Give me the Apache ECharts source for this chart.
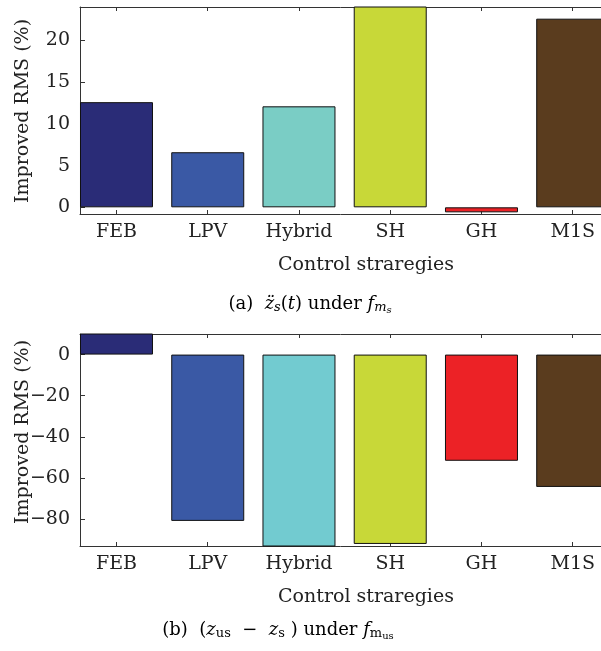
<!DOCTYPE html>
<html>
<head>
<meta charset="utf-8">
<script src="https://cdn.jsdelivr.net/npm/echarts@6/dist/echarts.min.js"></script>
<style>
  html, body { margin: 0; padding: 0; background: #fff; }
  #chart { width: 601px; height: 651px; }
</style>
</head>
<body>
<div id="chart"></div>
<script>
const categories = ['FEB', 'LPV', 'Hybrid', 'SH', 'GH', 'M1S'];
// (a) acceleration, values above 24 run off the top of the axes
const accelValues = [12.6, 6.6, 12.1, 30, -0.6, 22.6];
// (b) suspension deflection
const deflValues = [15, -80.8, -100, -92.0, -51.6, -64.3];
const accelTicks = [0, 5, 10, 15, 20];
const deflTicks = [-80, -60, -40, -20, 0];
const barColors = ['#2a2c77', '#3a59a5', '#7acdc5', '#c8d838', '#ec2226', '#5a3c1e'];
const barColorsB = ['#2a2c77', '#3a59a5', '#72cbd0', '#c8d838', '#ec2226', '#5a3c1e'];

const FONT = 'DejaVu Serif';
const positions = categories.map((c, i) => i + 1);

function mkData(vals, colors) {
  return vals.map((v, i) => ({
    value: [i + 1, v],
    itemStyle: { color: colors[i] }
  }));
}

function xAxes(gridIndex) {
  const line = { show: true, onZero: false, lineStyle: { color: '#333', width: 1 } };
  return [
    {
      type: 'value', gridIndex, position: 'bottom', min: 0.6, max: 6.31,
      axisLine: line,
      axisTick: { show: true, inside: true, length: 4, customValues: positions, lineStyle: { color: '#333' } },
      axisLabel: {
        show: true, customValues: positions, margin: 9,
        formatter: v => categories[Math.round(v) - 1] || '',
        fontFamily: FONT, fontSize: 19, color: '#222'
      },
      splitLine: { show: false }
    },
    {
      type: 'value', gridIndex, position: 'top', min: 0.6, max: 6.31,
      axisLine: line,
      axisTick: { show: true, inside: true, length: 4, customValues: positions, lineStyle: { color: '#333' } },
      axisLabel: { show: false },
      splitLine: { show: false }
    }
  ];
}

function yAxis(gridIndex, min, max, ticks) {
  return {
    type: 'value', gridIndex, min, max,
    axisLine: { show: true, onZero: false, lineStyle: { color: '#333', width: 1 } },
    axisTick: { show: true, inside: true, length: 5, customValues: ticks, lineStyle: { color: '#333' } },
    axisLabel: {
      show: true, customValues: ticks, margin: 10,
      formatter: v => (v < 0 ? '\u2212' + Math.abs(v) : String(v)),
      fontFamily: FONT, fontSize: 19, color: '#222'
    },
    splitLine: { show: false }
  };
}

const chart = echarts.init(document.getElementById('chart'));
chart.setOption({
  animation: false,
  backgroundColor: '#fff',
  grid: [
    { left: 80, top: 7, right: 0, height: 207 },
    { left: 80, top: 334, right: 0, height: 212 }
  ],
  xAxis: [...xAxes(0), ...xAxes(1)],
  yAxis: [yAxis(0, -0.8, 24, accelTicks), yAxis(1, -93, 10, deflTicks)],
  series: [
    {
      type: 'bar', xAxisIndex: 0, yAxisIndex: 0, barWidth: 73,
      itemStyle: { borderColor: '#111', borderWidth: 1 },
      data: mkData(accelValues, barColors)
    },
    {
      type: 'bar', xAxisIndex: 2, yAxisIndex: 1, barWidth: 73,
      itemStyle: { borderColor: '#111', borderWidth: 1 },
      data: mkData(deflValues, barColorsB)
    }
  ],
  graphic: [
    {
      type: 'text', x: 23, y: 111, rotation: Math.PI / 2,
      style: { text: 'Improved RMS (%)', font: '19px "DejaVu Serif"', fill: '#222', textAlign: 'center', textVerticalAlign: 'middle' }
    },
    {
      type: 'text', x: 23, y: 432, rotation: Math.PI / 2,
      style: { text: 'Improved RMS (%)', font: '19px "DejaVu Serif"', fill: '#222', textAlign: 'center', textVerticalAlign: 'middle' }
    },
    {
      type: 'text', x: 366, y: 265,
      style: { text: 'Control straregies', font: '19px "DejaVu Serif"', fill: '#222', textAlign: 'center', textVerticalAlign: 'middle' }
    },
    {
      type: 'text', x: 366, y: 597,
      style: { text: 'Control straregies', font: '19px "DejaVu Serif"', fill: '#222', textAlign: 'center', textVerticalAlign: 'middle' }
    },
    {
      type: 'text', x: 310, y: 304,
      style: {
        text: '{n|(a)  }{i|z\u0308}{s|s}{n|(}{i|t}{n|) under }{i|f}{s|m}{ss|s}',
        textAlign: 'center', textVerticalAlign: 'middle',
        rich: {
          n: { fontFamily: FONT, fontSize: 18, color: '#222', height: 22 },
          i: { fontFamily: FONT, fontSize: 18, fontStyle: 'italic', color: '#222', height: 22 },
          s: { fontFamily: FONT, fontSize: 13, fontStyle: 'italic', color: '#222', padding: [8, 0, 0, 0], height: 22 },
          ss: { fontFamily: FONT, fontSize: 10, fontStyle: 'italic', color: '#222', padding: [13, 0, 0, 0], height: 22 }
        }
      }
    },
    {
      type: 'text', x: 278, y: 630,
      style: {
        text: '{n|(b)  (}{i|z}{s|us}{n|  \u2212  }{i|z}{s|s}{n| ) under }{i|f}{s|m}{ss|us}',
        textAlign: 'center', textVerticalAlign: 'middle',
        rich: {
          n: { fontFamily: FONT, fontSize: 18, color: '#222', height: 22 },
          i: { fontFamily: FONT, fontSize: 18, fontStyle: 'italic', color: '#222', height: 22 },
          s: { fontFamily: FONT, fontSize: 13, color: '#222', padding: [8, 0, 0, 0], height: 22 },
          ss: { fontFamily: FONT, fontSize: 10, color: '#222', padding: [13, 0, 0, 0], height: 22 }
        }
      }
    }
  ]
});
</script>
</body>
</html>
